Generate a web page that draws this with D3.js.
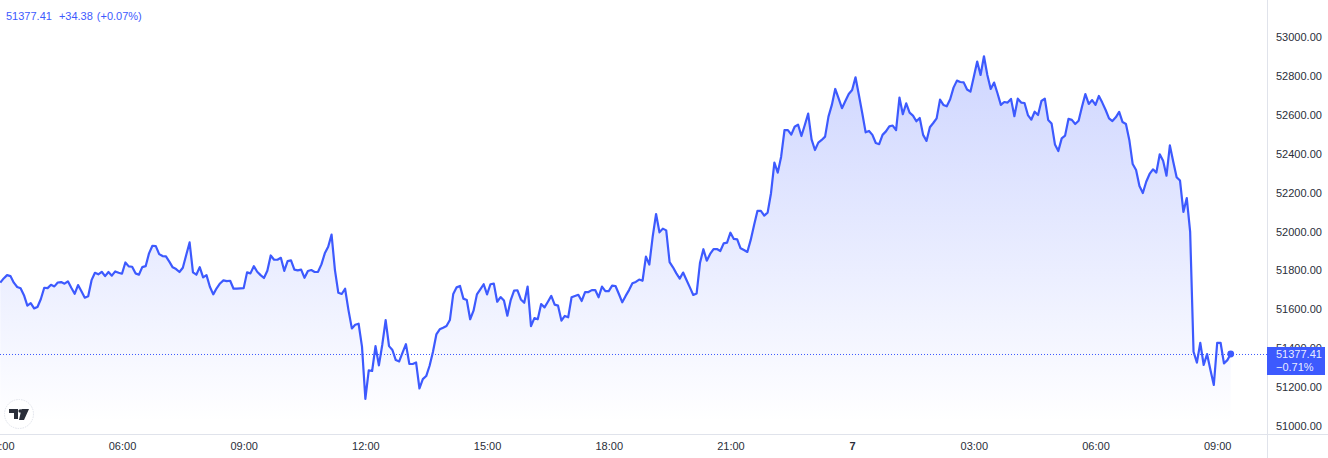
<!DOCTYPE html>
<html><head><meta charset="utf-8">
<script src="https://cdn.jsdelivr.net/npm/d3@7"></script>
<style>
html,body{margin:0;padding:0;background:#fff;overflow:hidden}
svg{display:block}
text{font-family:"Liberation Sans",Arial,sans-serif}
</style></head><body><svg id="c" width="1328" height="458"></svg>
<script>
// closes of 5-minute bars, first bar at 03:00 on day 6
const closes = [
51744,51766,51783,51778,51744,51722,51715,51680,51626,51639,
51612,51619,51660,51718,51716,51733,51725,51745,51747,51739,
51751,51718,51687,51732,51700,51667,51674,51757,51795,51787,
51800,51778,51799,51780,51802,51795,51790,51848,51828,51826,
51792,51785,51824,51829,51895,51934,51932,51891,51881,51879,
51852,51823,51814,51799,51821,51886,51951,51797,51785,51824,
51771,51783,51723,51684,51715,51740,51756,51752,51754,51713,
51714,51715,51716,51797,51792,51829,51800,51783,51768,51805,
51884,51862,51862,51872,51805,51855,51859,51811,51807,51811,
51769,51804,51809,51799,51800,51838,51895,51929,51991,51809,
51692,51686,51713,51603,51509,51528,51533,51415,51147,51293,
51290,51418,51319,51425,51552,51418,51398,51346,51339,51384,
51428,51327,51326,51334,51200,51248,51264,51317,51389,51478,
51504,51512,51521,51552,51686,51720,51727,51662,51655,51556,
51600,51684,51710,51736,51684,51736,51739,51646,51670,51652,
51574,51655,51703,51705,51658,51641,51724,51521,51562,51556,
51634,51617,51646,51676,51631,51626,51549,51573,51566,51669,
51676,51682,51650,51696,51696,51706,51706,51669,51724,51701,
51701,51729,51727,51686,51643,51676,51706,51741,51748,51760,
51754,51878,51837,51981,52097,52003,52022,52013,51850,51823,
51792,51765,51796,51758,51720,51681,51689,51847,51916,51857,
51892,51917,51917,51907,51946,51950,52001,51969,51967,51921,
51912,51902,51964,52041,52114,52113,52089,52104,52204,52361,
52310,52392,52529,52528,52505,52546,52557,52498,52555,52613,
52481,52426,52464,52478,52495,52598,52658,52740,52692,52641,
52678,52714,52735,52800,52709,52615,52517,52524,52504,52462,
52456,52504,52522,52548,52552,52528,52696,52610,52666,52618,
52603,52574,52591,52504,52473,52543,52565,52589,52685,52658,
52651,52687,52747,52783,52776,52774,52737,52726,52803,52881,
52812,52908,52812,52740,52773,52718,52658,52673,52670,52689,
52600,52690,52670,52668,52606,52582,52623,52606,52678,52690,
52581,52563,52455,52421,52486,52500,52586,52581,52560,52577,
52649,52714,52663,52683,52658,52704,52670,52632,52589,52575,
52594,52622,52570,52560,52478,52354,52323,52241,52205,52263,
52303,52327,52310,52404,52371,52294,52450,52366,52286,52269,
52108,52179,52005,51389,51333,51435,51321,51377,51295,51218,
51435,51435,51329,51346,51377.41];
const priceTicks = [51000,51200,51400,51600,51800,52000,52200,52400,52600,52800,53000];
const timeTickBars = [0,36,72,108,144,180,216,252,288,324,360];
const timeTickLabels = ["03:00","06:00","09:00","12:00","15:00","18:00","21:00","7","03:00","06:00","09:00"];
const lastPrice = 51377.41;
const legendParts = ["51377.41","+34.38","(+0.07%)"];
const lastLabels = ["51377.41","\u22120.71%"];

const BLUE="#3d5afe", GRID="#e0e3eb", INK="#2a2e39";
const svg=d3.select("#c");
const x=d3.scaleLinear().domain([0,360]).range([0.3,1217.2]);
const y=d3.scaleLinear().domain([51000,53000]).range([427.4,38.4]);
const defs=svg.append("defs");
const g=defs.append("linearGradient").attr("id","fade").attr("gradientUnits","userSpaceOnUse")
  .attr("x1",0).attr("x2",0).attr("y1",y(d3.max(closes))).attr("y2",422);
g.append("stop").attr("offset",0).attr("stop-color",BLUE).attr("stop-opacity",0.25);
g.append("stop").attr("offset",1).attr("stop-color",BLUE).attr("stop-opacity",0);
defs.append("clipPath").attr("id","pane").append("rect").attr("width",1267).attr("height",434);

const pane=svg.append("g").attr("clip-path","url(#pane)");
pane.append("path").datum(closes).attr("fill","url(#fade)")
  .attr("d",d3.area().x((d,i)=>x(i)).y0(434).y1(d=>y(d)));
pane.append("line").attr("x1",0).attr("x2",1267).attr("y1",y(lastPrice)+.5).attr("y2",y(lastPrice)+.5)
  .attr("stroke",BLUE).attr("stroke-width",1).attr("stroke-dasharray","1 2");
pane.append("path").datum(closes).attr("fill","none").attr("stroke",BLUE).attr("stroke-width",2.2)
  .attr("stroke-linejoin","round").attr("d",d3.line().x((d,i)=>x(i)).y(d=>y(d)));
pane.append("circle").attr("cx",x(closes.length-1)).attr("cy",y(lastPrice)).attr("r",3.4).attr("fill",BLUE);

// frame lines
svg.append("line").attr("x1",0).attr("x2",1328).attr("y1",434.5).attr("y2",434.5).attr("stroke",GRID);
svg.append("line").attr("x1",1267.5).attr("x2",1267.5).attr("y1",0).attr("y2",458).attr("stroke",GRID);

// axes
const ya=svg.append("g").attr("transform","translate(1267,-1.4)")
  .call(d3.axisRight(y).tickValues(priceTicks).tickSize(0).tickPadding(9).tickFormat(d3.format(".2f")));
ya.select(".domain").remove();
ya.selectAll("text").attr("fill",INK).attr("font-size",11);
const xa=svg.append("g").attr("transform","translate(0,434)")
  .call(d3.axisBottom(x).tickValues(timeTickBars).tickSize(0).tickPadding(8)
    .tickFormat((d,i)=>timeTickLabels[i]));
xa.select(".domain").remove();
xa.selectAll("text").attr("fill",INK).attr("font-size",11)
  .attr("font-weight",(d,i)=>timeTickLabels[i]==="7"?"bold":"normal");

// last price tag
const tag=svg.append("g");
tag.append("rect").attr("x",1267).attr("y",y(lastPrice)-7).attr("width",58).attr("height",28).attr("fill",BLUE);
tag.selectAll("text").data(lastLabels).join("text")
  .attr("x",1276).attr("y",(d,i)=>y(lastPrice)+4+i*13).attr("fill","#fff").attr("fill-opacity",.9).attr("font-size",11).text(d=>d);

// legend
const lg=svg.append("text").attr("x",6).attr("y",20).attr("font-size",11).attr("fill",BLUE);
lg.selectAll("tspan").data(legendParts).join("tspan").attr("dx",(d,i)=>[0,7,4][i]).text(d=>d);

// logo
const logo=svg.append("g").attr("transform","translate(19,414)");
logo.append("circle").attr("r",14.5).attr("fill","#fff").attr("stroke",GRID).attr("stroke-dasharray","1.5 1");
logo.append("path").attr("fill","#2a2e39").attr("transform","translate(-10,-5)")
  .attr("d","M0 0H9V10H5V4H0ZM12.5 0H20L15 11H10Z");
logo.append("circle").attr("cx",1.2).attr("cy",-3).attr("r",1.8).attr("fill","#2a2e39");
</script></body></html>
